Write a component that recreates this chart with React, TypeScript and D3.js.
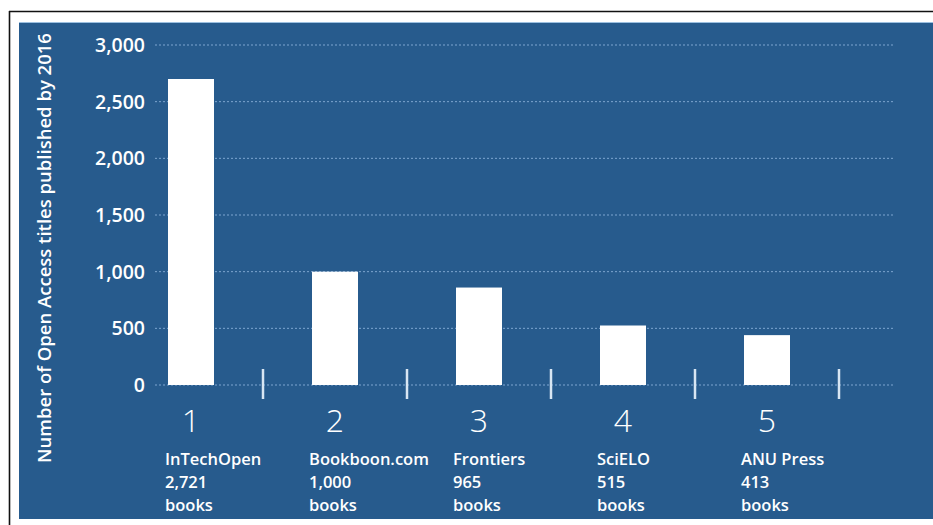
import { scaleBand, scaleLinear, format } from "d3";

// ranks, publishers and the book counts printed under each bar
const ranks = ["1", "2", "3", "4", "5"];
const publishers = ["InTechOpen", "Bookboon.com", "Frontiers", "SciELO", "ANU Press"];
const countLabels = ["2,721", "1,000", "965", "515", "413"];
// bar heights as drawn in the picture
const barValues = [2700, 1000, 860, 525, 440];
const yTicks = [0, 500, 1000, 1500, 2000, 2500, 3000];

const W = 933;
const H = 525;
const BLUE = "#275b8d";
const GRID = "#7ea6d0";
const FONT = "'Open Sans', 'Noto Sans', sans-serif";

export default function App() {
  const y = scaleLinear().domain([0, 3000]).range([385, 45]);
  const x = scaleBand<string>().domain(ranks).range([119, 839]).padding(0);
  const step = x.step();
  const barW = 46;
  const fmt = format(",");

  return (
    <svg
      width={W}
      height={H}
      viewBox={`0 0 ${W} ${H}`}
      style={{ position: "absolute", left: 0, top: 0, display: "block" }}
    >
      <rect x={0} y={0} width={W} height={H} fill="#ffffff" />
      {/* frame */}
      <line x1={9} x2={W} y1={11.5} y2={11.5} stroke="#111" strokeWidth={1.6} />
      <line x1={9.5} x2={9.5} y1={11} y2={H} stroke="#111" strokeWidth={1.6} />
      <rect x={19} y={22} width={W - 19} height={497} fill={BLUE} />
      <line x1={19} x2={W} y1={22.5} y2={22.5} stroke="#9cc0e0" strokeWidth={1} />

      {/* y axis title */}
      <text
        transform="translate(51,248) rotate(-90)"
        textAnchor="middle"
        fill="#ffffff"
        fontFamily={FONT}
        fontSize={18.5}
        fontWeight={600}
      >
        Number of Open Access titles published by 2016
      </text>

      {/* grid + tick labels */}
      {yTicks.map((t) => (
        <g key={t}>
          <line
            x1={155}
            x2={893}
            y1={y(t)}
            y2={y(t)}
            stroke={GRID}
            strokeWidth={1}
            strokeDasharray="2,2"
          />
          <text
            x={145}
            y={y(t)}
            dy="0.36em"
            textAnchor="end"
            fill="#ffffff"
            fontFamily={FONT}
            fontSize={19.5}
            fontWeight={600}
          >
            {fmt(t)}
          </text>
        </g>
      ))}

      {/* bars */}
      {ranks.map((r, i) => (
        <rect
          key={r}
          x={(x(r) as number) + step / 2 - barW / 2}
          y={y(barValues[i])}
          width={barW}
          height={y(0) - y(barValues[i])}
          fill="#ffffff"
        />
      ))}

      {/* separators */}
      {ranks.map((r) => (
        <line
          key={"s" + r}
          x1={(x(r) as number) + step}
          x2={(x(r) as number) + step}
          y1={369}
          y2={399}
          stroke="#d8e6f3"
          strokeWidth={2.5}
        />
      ))}

      {/* rank numbers and labels */}
      {ranks.map((r, i) => {
        const cx = (x(r) as number) + step / 2;
        const lx = cx - barW / 2 - 3;
        return (
          <g key={"l" + r} fill="#ffffff" fontFamily={FONT}>
            <text x={cx} y={432} textAnchor="middle" fontSize={32} fontWeight={300}>
              {r}
            </text>
            <text fontSize={16.5} fontWeight={600}>
              <tspan x={lx} y={465}>{publishers[i]}</tspan>
              <tspan x={lx} y={488}>{countLabels[i]}</tspan>
              <tspan x={lx} y={511}>books</tspan>
            </text>
          </g>
        );
      })}
    </svg>
  );
}
